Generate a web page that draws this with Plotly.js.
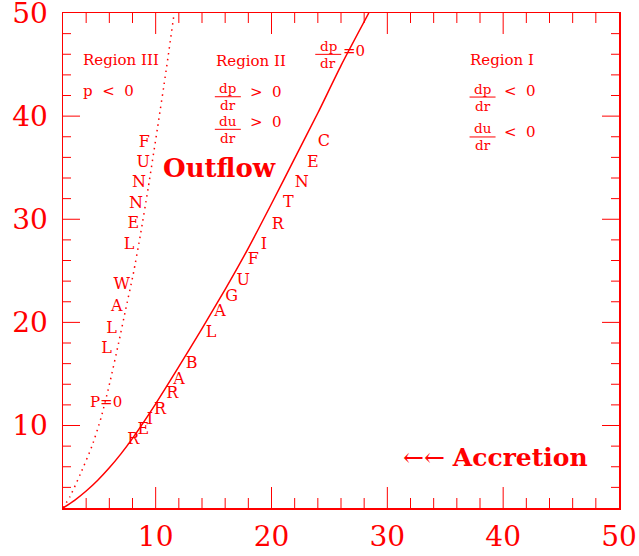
<!DOCTYPE html>
<html>
<head>
<meta charset="utf-8">
<script src="https://cdn.plot.ly/plotly-3.0.1.min.js"></script>
<style>html,body{margin:0;padding:0;background:#fff;}#chart{width:639px;height:556px;}</style>
</head>
<body>
<div id="chart"></div>
<script>
// Centrifugal barrier (solid, dp/dr = 0)
const barrierX = [2, 3, 4, 5, 6, 7, 8, 10, 12, 14, 16, 18, 20, 22, 24, 26, 28.4];
const barrierY = [2, 2.75, 3.65, 4.7, 5.9, 7.25, 8.75, 12.1, 15.7, 19.4, 23.2, 27.2, 31.5, 35.9, 40.3, 44.9, 50];
// Funnel wall (dotted, p = 0)
const funnelX = [2, 2.6, 3.5, 4.5, 5.3, 6.05, 6.8, 7.4, 8.05, 8.7, 9.35, 10.15, 10.9, 11.6];
const funnelY = [2, 3.1, 5.3, 8.0, 10.8, 14.2, 18.0, 21.2, 24.6, 28.6, 33.0, 38.8, 44.4, 50];
// Letters placed along the curves
const funnelLetters = ['F','U','N','N','E','L','W','A','L','L'];
const funnelLetterX = [9.02, 8.93, 8.56, 8.30, 8.07, 7.70, 7.07, 6.64, 6.20, 5.77];
const funnelLetterY = [37.4, 35.5, 33.5, 31.5, 29.5, 27.5, 23.6, 21.5, 19.4, 17.4];
const barrierLetters = ['C','E','N','T','R','I','F','U','G','A','L','B','A','R','R','I','E','R'];
const barrierLetterX = [24.53, 23.56, 22.61, 21.45, 20.54, 19.35, 18.43, 17.57, 16.56, 15.55, 14.78, 13.11, 12.01, 11.44, 10.37, 9.51, 8.93, 8.07];
const barrierLetterY = [37.5, 35.5, 33.5, 31.55, 29.45, 27.5, 26.05, 24.0, 22.5, 21.0, 18.95, 16.0, 14.4, 13.05, 11.5, 10.5, 9.55, 8.6];
// Axis ticks (same on both axes)
const majorTicks = [10, 20, 30, 40];
const minorTicks = [4, 6, 8, 12, 14, 16, 18, 22, 24, 26, 28, 32, 34, 36, 38, 42, 44, 46, 48];
const tickLabels = ['10', '20', '30', '40', '50'];
const tickLabelVals = [10, 20, 30, 40, 50];
const axisRange = [2, 50];

const RED = '#ff0000';
const SERIF = 'DejaVu Serif, Liberation Serif, serif';

const traces = [
  {x: barrierX, y: barrierY, mode: 'lines', type: 'scatter',
   line: {color: RED, width: 1.5, shape: 'spline', smoothing: 0.6}, hoverinfo: 'skip'},
  {x: funnelX, y: funnelY, mode: 'lines', type: 'scatter',
   line: {color: RED, width: 1.5, dash: '1.5px,4.5px', shape: 'spline', smoothing: 0.6}, hoverinfo: 'skip'},
  {x: funnelLetterX, y: funnelLetterY, text: funnelLetters, mode: 'text', type: 'scatter',
   textfont: {family: SERIF, size: 16, color: RED}, textposition: 'middle center', hoverinfo: 'skip', cliponaxis: false},
  {x: barrierLetterX, y: barrierLetterY, text: barrierLetters, mode: 'text', type: 'scatter',
   textfont: {family: SERIF, size: 16, color: RED}, textposition: 'middle center', hoverinfo: 'skip', cliponaxis: false}
];

const annotations = [];
const shapes = [];
function label(x, y, text, size, xanchor, extra) {
  annotations.push(Object.assign({x: x, y: y, xref: 'x', yref: 'y', text: text, showarrow: false,
    xanchor: xanchor || 'center', yanchor: 'middle', borderpad: 0,
    font: {family: SERIF, size: size, color: RED}}, extra || {}));
}
function frac(x, y, num, den) {
  label(x, y, num, 13.5, 'center', {yshift: 8.5});
  label(x, y, den, 13.5, 'center', {yshift: -8.5});
  shapes.push({type: 'line', xref: 'x', yref: 'y', xsizemode: 'pixel', ysizemode: 'pixel',
    xanchor: x, yanchor: y, x0: -13, x1: 13, y0: 0, y1: 0, line: {color: RED, width: 1}});
}

label(3.61, 45.44, 'Region III', 15, 'left');
label(3.61, 42.47, 'p  <  0', 15, 'left');
label(15.12, 45.38, 'Region II', 15, 'left');
frac(16.23, 41.88, 'dp', 'dr');
label(19.5, 42.37, '>  0', 15, 'center');
frac(16.23, 38.72, 'du', 'dr');
label(19.5, 39.43, '>  0', 15, 'center');
frac(24.9, 45.99, 'dp', 'dr');
label(27.12, 46.35, '=0', 15, 'center');
label(37.08, 45.44, 'Region I', 15, 'left');
frac(38.22, 41.85, 'dp', 'dr');
label(41.45, 42.47, '<  0', 15, 'center');
frac(38.22, 37.98, 'du', 'dr');
label(41.45, 38.43, '<  0', 15, 'center');
label(5.67, 12.31, 'P=0', 15, 'center');
label(15.55, 34.94, '<b>Outflow</b>', 26, 'center');
label(39.34, 6.85, '←← <b>Accretion</b>', 25, 'center');

// inside tick marks on all four sides, anchored at the tick values
function xTick(v, len) {
  shapes.push({type: 'line', xref: 'x', yref: 'y', xsizemode: 'pixel', ysizemode: 'pixel',
    xanchor: v, yanchor: axisRange[0], x0: 0, x1: 0, y0: 0, y1: len, line: {color: RED, width: 1}});
  shapes.push({type: 'line', xref: 'x', yref: 'y', xsizemode: 'pixel', ysizemode: 'pixel',
    xanchor: v, yanchor: axisRange[1], x0: 0, x1: 0, y0: 0, y1: -len, line: {color: RED, width: 1}});
}
function yTick(v, len) {
  shapes.push({type: 'line', xref: 'x', yref: 'y', xsizemode: 'pixel', ysizemode: 'pixel',
    xanchor: axisRange[0], yanchor: v, x0: 0, x1: len, y0: 0, y1: 0, line: {color: RED, width: 1}});
  shapes.push({type: 'line', xref: 'x', yref: 'y', xsizemode: 'pixel', ysizemode: 'pixel',
    xanchor: axisRange[1], yanchor: v, x0: 0, x1: -len, y0: 0, y1: 0, line: {color: RED, width: 1}});
}
majorTicks.forEach(v => { xTick(v, 21); yTick(v, 17); });
minorTicks.forEach(v => { xTick(v, 10); yTick(v, 8); });

function labelAxis() {
  return {
    range: axisRange, tickmode: 'array', tickvals: tickLabelVals, ticktext: tickLabels, ticks: '',
    showline: true, linecolor: RED, linewidth: 1.5, mirror: true,
    showgrid: false, zeroline: false, fixedrange: true,
    ticklabeloverflow: 'allow',
    tickfont: {family: SERIF, size: 28, color: RED}
  };
}

const layout = {
  width: 639, height: 556,
  margin: {l: 63, r: 20, t: 13, b: 48, pad: 0},
  paper_bgcolor: '#ffffff', plot_bgcolor: '#ffffff',
  showlegend: false,
  xaxis: Object.assign(labelAxis(), {ticklabelstandoff: 3}),
  yaxis: Object.assign(labelAxis(), {ticklabelstandoff: 8}),
  annotations: annotations,
  shapes: shapes
};

Plotly.newPlot('chart', traces, layout, {staticPlot: true, displayModeBar: false});
</script>
</body>
</html>
